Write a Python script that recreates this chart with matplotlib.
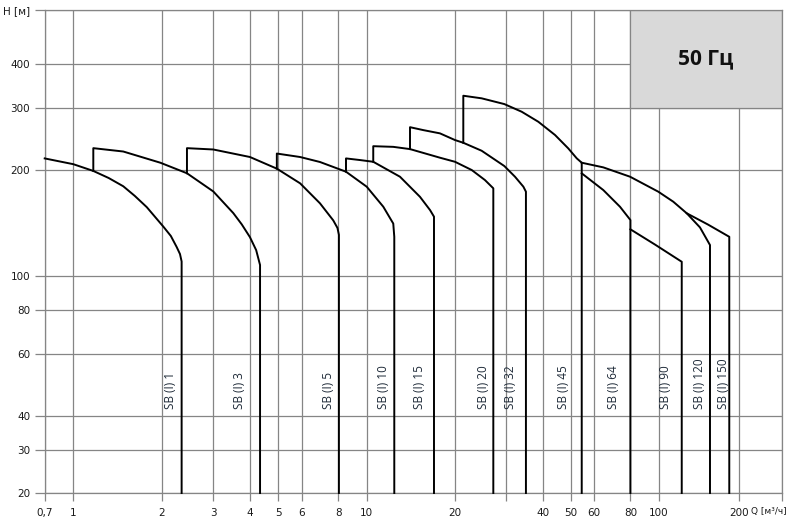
import numpy as np
import matplotlib
matplotlib.use("Agg")
import matplotlib.pyplot as plt
from matplotlib.patches import Rectangle

# Pump family curves, Q [m3/h] vs H [m].
# Each series starts on the previous curve (or at the axis edge) and ends with a drop to the bottom.
pump_names = ["SB (I) 1", "SB (I) 3", "SB (I) 5", "SB (I) 10", "SB (I) 15", "SB (I) 20",
              "SB (I) 32", "SB (I) 45", "SB (I) 64", "SB (I) 90", "SB (I) 120", "SB (I) 150"]

sb1_q = [0.7, 1.0, 1.17, 1.32, 1.48, 1.62, 1.78, 2.03, 2.15, 2.25, 2.31, 2.34]
sb1_h = [216, 208, 199, 190, 180, 169, 157, 138, 130, 121, 115.5, 110]

sb3_q = [1.17, 1.17, 1.48, 1.98, 2.44, 3.0, 3.51, 3.75, 4.0, 4.2, 4.33]
sb3_h = [199, 231, 226, 210, 196, 174, 151, 140.3, 129, 118.5, 107.5]

sb5_q = [2.44, 2.44, 3.0, 4.0, 4.94, 5.93, 6.93, 7.69, 7.95, 8.04]
sb5_h = [196, 231, 229, 218, 202, 183.5, 161, 144, 137, 131]

sb10_q = [4.94, 4.94, 5.93, 6.93, 8.5, 10.0, 11.4, 12.33, 12.43]
sb10_h = [202, 223, 218, 211, 198, 179.5, 157.4, 141, 129.3]

sb15_q = [8.5, 8.5, 9.49, 10.53, 13.0, 15.22, 16.48, 17.0]
sb15_h = [198, 216, 213.7, 211.3, 191.6, 168, 154, 147.5]

sb20_q = [10.53, 10.53, 12.33, 14.07, 17.82, 20.06, 22.89, 25.4, 27.14]
sb20_h = [211.3, 234, 233, 229.6, 217, 211.3, 200.2, 187.5, 177.6]

sb32_q = [14.07, 14.07, 15.62, 17.82, 20.06, 21.42, 24.76, 29.6, 32.2, 34.4, 35.1]
sb32_h = [229.6, 265, 260, 254.5, 243.6, 239.3, 227.1, 205.5, 191.6, 179.5, 173.7]

sb45_q = [21.42, 21.42, 24.76, 29.6, 33.95, 38.7, 44.15, 49.0, 52.4, 54.5]
sb45_h = [239.3, 325.6, 320.1, 308.3, 293.2, 274.6, 251.8, 230.7, 216.1, 210]

sb64_q = [54.5, 64.6, 73.7, 80]
sb64_h = [195.9, 175.6, 157.4, 144.3]

sb90_q = [80, 97.1, 122]
sb90_h = [135.8, 122.9, 109.8]

sb120_q = [54.5, 64.6, 79.8, 99.7, 113.4, 127.4, 142.8, 155.7]
sb120_h = [210, 203.7, 191.6, 173.7, 162.7, 150.8, 137.5, 122.5]

sb150_q = [127.4, 153, 183.9]
sb150_h = [150.8, 140.1, 129.3]

curves_q = [sb1_q, sb3_q, sb5_q, sb10_q, sb15_q, sb20_q, sb32_q, sb45_q, sb64_q, sb90_q, sb120_q, sb150_q]
curves_h = [sb1_h, sb3_h, sb5_h, sb10_h, sb15_h, sb20_h, sb32_h, sb45_h, sb64_h, sb90_h, sb120_h, sb150_h]

# where the rotated type labels sit (Q) and their lower end (H)
label_q = [2.15, 3.68, 7.4, 11.4, 15.2, 25.1, 31.0, 47.1, 69.9, 105.6, 142.8, 174.7]
label_h = 42

x_ticks = [0.7, 1, 2, 3, 4, 5, 6, 8, 10, 20, 30, 40, 50, 60, 80, 100, 200, 300]
x_labels = ["0,7", "1", "2", "3", "4", "5", "6", "8", "10", "20", "", "40", "50", "60", "80", "100", "200", ""]
y_ticks = [20, 30, 40, 60, 80, 100, 200, 300, 400, 570]
y_labels = ["20", "30", "40", "60", "80", "100", "200", "300", "400", "H [м]"]

# the printed axes are not a clean log scale: decade widths vary (relative units)
x_knots_val = [0.7, 1, 10, 100, 200, 300]
x_knots_pos = [44.7, 73.3, 366.7, 658.7, 739.0, 781.7]
y_knots_val = [20, 30, 40, 400, 570]
y_knots_pos = [-493.0, -450.0, -416.0, -64.3, -9.7]


def make_warp(vals, pos):
    lk = np.log10(np.array(vals, float))
    pk = np.array(pos, float)
    s0 = (pk[1] - pk[0]) / (lk[1] - lk[0])
    s1 = (pk[-1] - pk[-2]) / (lk[-1] - lk[-2])

    def forward(v):
        v = np.asarray(v, float)
        with np.errstate(divide="ignore", invalid="ignore"):
            l = np.log10(np.where(v > 0, v, 1e-30))
        out = np.interp(l, lk, pk)
        out = np.where(l < lk[0], pk[0] + (l - lk[0]) * s0, out)
        out = np.where(l > lk[-1], pk[-1] + (l - lk[-1]) * s1, out)
        return out

    def inverse(p):
        p = np.asarray(p, float)
        l = np.interp(p, pk, lk)
        l = np.where(p < pk[0], lk[0] + (p - pk[0]) / s0, l)
        l = np.where(p > pk[-1], lk[-1] + (p - pk[-1]) / s1, l)
        return 10 ** l

    return forward, inverse


fig = plt.figure(figsize=(7.91, 5.24), dpi=100)
ax = fig.add_axes([44.7 / 791, 31 / 524, 737 / 791, 483.3 / 524])

ax.set_xscale("function", functions=make_warp(x_knots_val, x_knots_pos))
ax.set_yscale("function", functions=make_warp(y_knots_val, y_knots_pos))
ax.set_xlim(0.7, 300)
ax.set_ylim(20, 570)

grid_col = "#858585"
ax.set_xticks(x_ticks)
ax.set_xticklabels(x_labels)
ax.set_yticks(y_ticks)
ax.set_yticklabels(y_labels)
ax.xaxis.set_minor_locator(matplotlib.ticker.NullLocator())
ax.yaxis.set_minor_locator(matplotlib.ticker.NullLocator())
ax.grid(True, color=grid_col, linewidth=0.9, zorder=0)
ax.tick_params(axis="x", direction="out", length=5.5, width=0.9, color=grid_col,
               labelsize=7.5, pad=5, labelcolor="#1a1a1a")
ax.tick_params(axis="y", direction="out", length=7.5, width=0.9, color=grid_col,
               labelsize=7.5, pad=3, labelcolor="#1a1a1a")
for sp in ax.spines.values():
    sp.set_color(grid_col)
    sp.set_linewidth(0.9)

# frequency box
box = Rectangle((80, 300), 300 - 80, 570 - 300, facecolor="#d9d9d9",
                edgecolor=grid_col, linewidth=0.9, zorder=2)
ax.add_patch(box)
ax.annotate("50 Гц", xy=(0.5, 0.5), xycoords=box, ha="center", va="center",
            fontsize=15, fontweight="bold", family=["Open Sans", "DejaVu Sans"],
            color="#111111", zorder=3)

h_bottom = ax.get_ylim()[0]
for q, h in zip(curves_q, curves_h):
    ax.plot(q + [q[-1]], h + [h_bottom], color="black", linewidth=1.4,
            solid_joinstyle="round", zorder=4, clip_on=False)

for name, lq in zip(pump_names, label_q):
    ax.text(lq, label_h, name, rotation=90, ha="center", va="bottom",
            fontsize=8.5, family=["Open Sans", "DejaVu Sans"], color="#1e2a38", zorder=5)

ax.text(0.983, -0.038, "Q [м³/ч]", transform=ax.transAxes, ha="center", va="center",
        fontsize=6.5, color="#1a1a1a")

fig.savefig("out.png", dpi=100)
